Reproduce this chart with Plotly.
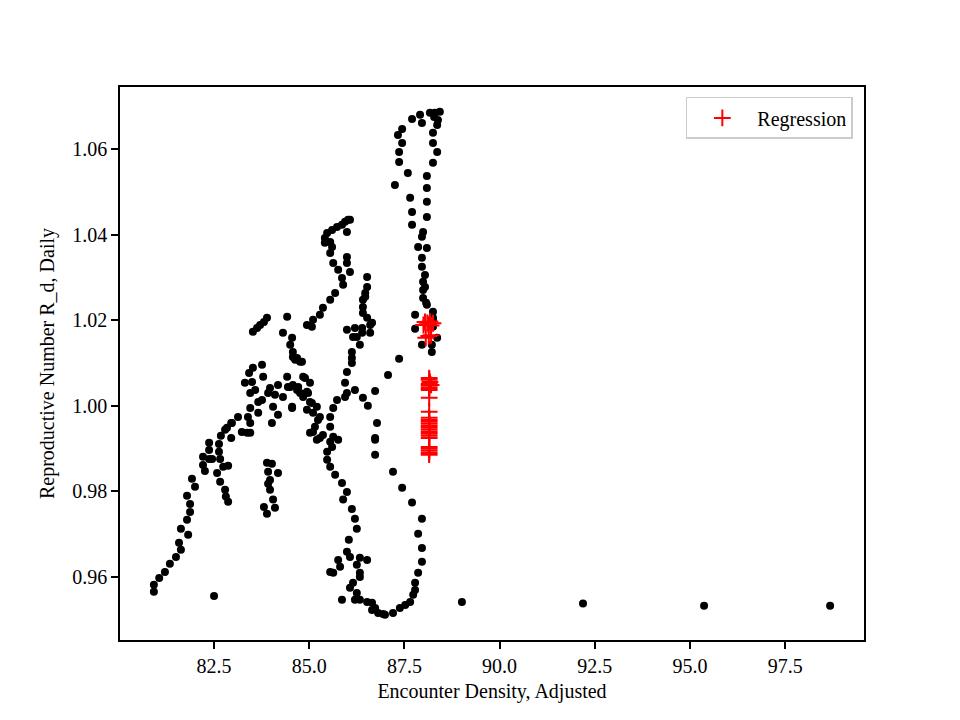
import plotly.graph_objects as go

# Black observations: (Encounter Density Adjusted, Reproductive Number R_d Daily)
lower_arm = [
    (80.92, 0.9566), (80.92, 0.9582), (81.06, 0.9598), (81.21, 0.9612), (81.34, 0.9631),
    (81.50, 0.9647), (81.63, 0.9664), (81.58, 0.9680), (81.82, 0.9699), (81.63, 0.9713),
    (81.79, 0.9734), (81.87, 0.9752), (81.87, 0.9771), (81.79, 0.9790), (82.00, 0.9811),
    (81.92, 0.9830), (82.26, 0.9848), (82.21, 0.9862), (82.21, 0.9881), (82.37, 0.9876),
    (82.37, 0.9897), (82.37, 0.9914), (82.45, 0.9876), (82.63, 0.9911), (82.63, 0.9893),
    (82.66, 0.9876), (82.68, 0.9930), (82.79, 0.9944), (82.95, 0.9960), (82.95, 0.9925),
    (82.58, 0.9843), (82.66, 0.9823), (82.79, 0.9804), (82.81, 0.9788), (82.87, 0.9776),
    (82.74, 0.9858), (82.87, 0.9860), (82.50, 0.9556),
]
small_cluster = [
    (83.89, 0.9867), (84.02, 0.9865), (84.18, 0.9843), (83.97, 0.9827), (83.97, 0.9804),
    (84.05, 0.9781), (83.81, 0.9764), (83.89, 0.9748), (84.10, 0.9762), (83.92, 0.9818),
    (83.92, 0.9846),
]
upper_arm = [
    (83.52, 1.0173), (83.71, 1.0189), (83.89, 1.0206), (83.63, 1.0182), (83.81, 1.0196),
    (84.42, 1.0208), (84.31, 1.0171), (84.55, 1.0159), (84.50, 1.0143), (84.57, 1.0126),
    (84.57, 1.0114), (84.81, 1.0103), (84.68, 1.0112), (83.76, 1.0096), (83.52, 1.0089),
]
left_tangle = [
    (83.42, 1.0077), (83.79, 1.0068), (83.31, 1.0054), (83.50, 1.0056), (83.58, 1.0037),
    (83.45, 1.0030), (83.97, 1.0042), (84.18, 1.0049), (84.42, 1.0068), (84.44, 1.0044),
    (84.71, 1.0044), (84.89, 1.0065), (85.02, 1.0054), (83.92, 1.0030), (84.10, 1.0026),
    (83.76, 1.0014), (83.66, 1.0009), (84.31, 1.0021), (84.55, 0.9995), (84.05, 0.9998),
    (84.18, 0.9979), (84.02, 0.9960), (83.66, 0.9984), (83.45, 0.9995), (83.39, 0.9974),
    (83.45, 0.9960), (83.13, 0.9974), (82.97, 0.9960), (83.23, 0.9939), (83.45, 0.9937),
    (84.97, 1.0030), (85.07, 1.0007), (84.94, 0.9991), (85.10, 0.9984), (85.23, 0.9967),
    (85.10, 0.9939), (85.36, 0.9932), (84.76, 1.0103), (84.63, 1.0108), (82.84, 0.9949),
    (84.76, 1.0030), (84.57, 1.0049), (84.84, 1.0021), (83.37, 0.9937), (85.02, 0.9937),
    (84.84, 1.0068), (84.50, 1.0044), (84.68, 1.0037), (84.94, 1.0033), (85.02, 1.0009),
    (85.20, 0.9998), (85.28, 0.9974), (85.15, 0.9951), (85.28, 0.9925), (84.55, 0.9998),
]
rising_arm = [
    (84.94, 1.0189), (85.07, 1.0185), (85.10, 1.0201), (85.28, 1.0213), (85.36, 1.0229),
    (85.55, 1.0248), (85.68, 1.0264),
]
hook = [
    (86.02, 1.0435), (85.94, 1.0430), (85.86, 1.0423), (85.73, 1.0418), (85.60, 1.0411),
    (85.47, 1.0404), (85.41, 1.0392), (85.41, 1.0381), (85.55, 1.0383), (85.60, 1.0371),
    (85.55, 1.0357), (85.63, 1.0334), (85.76, 1.0318), (85.86, 1.0299), (85.89, 1.0283),
    (85.99, 1.0348), (85.99, 1.0334), (86.07, 1.0313), (85.99, 1.0406), (86.07, 1.0435),
]
column_865 = [
    (86.52, 1.0301), (86.52, 1.0278), (86.47, 1.0264), (86.41, 1.0248), (86.47, 1.0255),
    (86.41, 1.0231), (86.41, 1.0217), (86.52, 1.0206), (86.60, 1.0189), (86.60, 1.0171),
    (85.99, 1.0178), (86.20, 1.0182), (86.15, 1.0161), (86.39, 1.0171), (86.33, 1.0143),
    (86.12, 1.0126), (86.12, 1.0112), (86.39, 1.0182), (86.65, 1.0194), (86.25, 1.0161),
    (86.12, 1.0100), (85.99, 1.0079), (85.94, 1.0054), (85.99, 1.0030),
]
mid_tangle = [
    (85.60, 0.9904), (85.63, 0.9928), (85.55, 0.9951), (85.55, 0.9974), (85.63, 0.9995),
    (85.73, 1.0014), (85.94, 1.0021), (86.20, 1.0037), (86.41, 1.0019), (86.54, 1.0000),
    (86.73, 1.0035), (86.78, 0.9960), (86.73, 0.9925), (87.07, 1.0072), (87.36, 1.0110),
]
lower_loop = [
    (85.20, 0.9921), (85.55, 0.9916), (85.76, 0.9921), (85.47, 0.9893), (85.47, 0.9874),
    (85.55, 0.9858), (85.68, 0.9839), (85.86, 0.9820), (85.99, 0.9799), (85.89, 0.9781),
    (86.12, 0.9759), (86.20, 0.9736), (86.25, 0.9713), (86.04, 0.9687), (85.99, 0.9659),
    (85.76, 0.9640), (85.81, 0.9624), (85.55, 0.9612), (85.63, 0.9610), (86.07, 0.9647),
    (86.33, 0.9645), (86.52, 0.9640), (86.25, 0.9629), (86.33, 0.9610), (86.33, 0.9600),
    (86.15, 0.9587), (86.07, 0.9575), (85.86, 0.9547), (86.25, 0.9563), (86.33, 0.9547),
    (86.52, 0.9542), (86.65, 0.9540), (86.73, 0.9528), (86.65, 0.9523), (86.81, 0.9516),
    (86.99, 0.9512), (87.20, 0.9516), (87.38, 0.9528), (87.52, 0.9535), (87.65, 0.9542),
    (87.73, 0.9559), (87.78, 0.9570), (87.78, 0.9587), (87.86, 0.9610), (87.96, 0.9636),
    (87.96, 0.9668), (87.86, 0.9701), (87.96, 0.9736), (87.70, 0.9774), (87.44, 0.9809),
    (87.20, 0.9846), (86.73, 0.9886), (86.73, 0.9921), (86.94, 0.9514), (86.20, 0.9547),
]
top_loop = [
    (87.70, 1.0670), (87.91, 1.0680), (87.96, 1.0661), (88.17, 1.0685), (88.30, 1.0685),
    (88.43, 1.0687), (88.38, 1.0668), (88.36, 1.0656), (88.25, 1.0638), (88.25, 1.0614),
    (88.36, 1.0593), (88.25, 1.0568), (88.09, 1.0537), (88.09, 1.0509), (88.09, 1.0477),
    (88.09, 1.0441), (87.99, 1.0406), (87.96, 1.0395), (88.09, 1.0369), (87.96, 1.0346),
    (87.44, 1.0647), (87.33, 1.0633), (87.44, 1.0614), (87.36, 1.0593), (87.36, 1.0570),
    (87.59, 1.0544), (87.25, 1.0516), (87.65, 1.0486), (87.70, 1.0453), (87.70, 1.0423),
    (87.86, 1.0371), (88.28, 1.0675),
]
right_column = [
    (87.96, 1.0325), (88.04, 1.0306), (87.99, 1.0290), (88.04, 1.0278), (87.99, 1.0271),
    (87.99, 1.0252), (88.07, 1.0241), (87.78, 1.0213), (88.25, 1.0220), (88.25, 1.0206),
    (88.25, 1.0185), (87.78, 1.0180), (88.36, 1.0159), (87.96, 1.0143), (88.22, 1.0143),
    (88.22, 1.0126), (88.09, 1.0236), (88.25, 1.0201),
]
stragglers = [
    (89.01, 0.9542), (92.19, 0.9538), (95.37, 0.9533), (98.68, 0.9533),
]

# Red "Regression" points
regression = [
    (88.04, 1.0196), (88.10, 1.0194), (88.17, 1.0197), (88.25, 1.0193), (88.00, 1.0189),
    (88.13, 1.0190), (88.20, 1.0188), (88.14, 1.0163), (88.06, 1.0159), (88.20, 1.0165),
    (88.15, 1.0065), (88.15, 1.0061), (88.17, 1.0056), (88.15, 1.0051), (88.20, 1.0049),
    (88.15, 1.0047), (88.15, 1.0042), (88.15, 1.0037), (88.15, 1.0019), (88.15, 0.9986),
    (88.15, 0.9972), (88.15, 0.9967), (88.15, 0.9963), (88.15, 0.9958), (88.15, 0.9953),
    (88.15, 0.9949), (88.15, 0.9944), (88.15, 0.9939), (88.15, 0.9935), (88.15, 0.9930),
    (88.15, 0.9925), (88.15, 0.9904), (88.15, 0.9900), (88.15, 0.9895), (88.15, 0.9890),
    (88.15, 0.9886),
]

x_ticks = [82.5, 85.0, 87.5, 90.0, 92.5, 95.0, 97.5]
y_ticks = [0.96, 0.98, 1.00, 1.02, 1.04, 1.06]

observed = (lower_arm + small_cluster + upper_arm + left_tangle + rising_arm + hook
            + column_865 + mid_tangle + lower_loop + top_loop + right_column + stragglers)

FONT = "Liberation Serif, Times New Roman, serif"
FS = 20

fig = go.Figure()
fig.add_trace(go.Scatter(
    x=[p[0] for p in observed], y=[p[1] for p in observed],
    mode="markers", showlegend=False,
    marker=dict(color="black", size=8, line=dict(width=0)),
))
fig.add_trace(go.Scatter(
    x=[p[0] for p in regression], y=[p[1] for p in regression],
    mode="markers", name="Regression",
    marker=dict(symbol="cross-thin", color="red", size=12,
                line=dict(color="red", width=2)),
))

axis_common = dict(
    showline=True, linecolor="black", linewidth=1.5, mirror=True,
    ticks="outside", ticklen=7, tickwidth=1.5, tickcolor="black",
    showgrid=False, zeroline=False,
    tickfont=dict(family=FONT, size=FS, color="black"),
)
fig.update_layout(
    width=952, height=712,
    margin=dict(l=112, r=96, t=79, b=80, autoexpand=False),
    paper_bgcolor="white", plot_bgcolor="white",
    font=dict(family=FONT, size=FS, color="black"),
    xaxis=dict(range=[80.03, 99.57], tickvals=x_ticks,
               ticktext=[f"{v:.1f}" for v in x_ticks],
               title=dict(text="Encounter Density, Adjusted",
                          font=dict(family=FONT, size=FS), standoff=8),
               **axis_common),
    yaxis=dict(range=[0.9453, 1.0745], tickvals=y_ticks,
               ticktext=[f"{v:.2f}" for v in y_ticks],
               title=dict(text="Reproductive Number R_d, Daily",
                          font=dict(family=FONT, size=FS), standoff=12),
               **axis_common),
    legend=dict(x=0.985, y=0.982, xanchor="right", yanchor="top",
                bordercolor="#cccccc", borderwidth=1.5, bgcolor="white",
                itemwidth=60,
                font=dict(family=FONT, size=FS)),
)

fig.write_html("out.html")
